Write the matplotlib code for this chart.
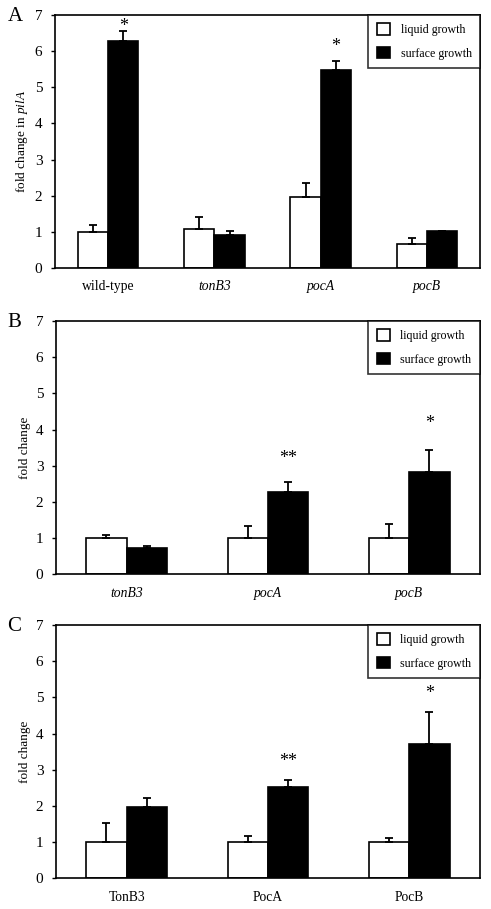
import matplotlib
matplotlib.use("Agg")
import matplotlib.pyplot as plt
import numpy as np

plt.rcParams['font.family'] = ['Liberation Serif', 'DejaVu Serif']
plt.rcParams['mathtext.fontset'] = 'custom'
plt.rcParams['mathtext.it'] = 'Liberation Serif:italic'
plt.rcParams['mathtext.rm'] = 'Liberation Serif'

series_names = ["liquid growth", "surface growth"]

# Panel A
a_cats = ["wild-type", "tonB3", "pocA", "pocB"]
a_italic = [False, True, True, True]
a_liquid = [1.00, 1.08, 1.97, 0.66]
a_liquid_err = [0.20, 0.33, 0.37, 0.17]
a_surface = [6.28, 0.92, 5.49, 1.03]
a_surface_err = [0.27, 0.10, 0.24, 0.0]
a_stars = ["*", "", "*", ""]
a_star_y = [6.74, None, 6.18, None]

# Panel B
b_cats = ["tonB3", "pocA", "pocB"]
b_italic = [True, True, True]
b_liquid = [1.00, 1.00, 1.00]
b_liquid_err = [0.08, 0.33, 0.38]
b_surface = [0.72, 2.28, 2.82]
b_surface_err = [0.07, 0.28, 0.62]
b_stars = ["", "**", "*"]
b_star_y = [None, 3.25, 4.22]

# Panel C
c_cats = ["TonB3", "PocA", "PocB"]
c_italic = [False, False, False]
c_liquid = [1.00, 1.00, 1.00]
c_liquid_err = [0.54, 0.17, 0.11]
c_surface = [1.98, 2.53, 3.70]
c_surface_err = [0.23, 0.18, 0.89]
c_stars = ["", "**", "*"]
c_star_y = [None, 3.27, 5.16]

fig = plt.figure(figsize=(4.91, 9.09), dpi=100)

panels = [
    ("A", [0.112, 0.7052, 0.866, 0.2783], a_cats, a_italic, a_liquid, a_liquid_err,
     a_surface, a_surface_err, a_stars, a_star_y, "fold change in $\\it{pilA}$"),
    ("B", [0.114, 0.3682, 0.8635, 0.2787], b_cats, b_italic, b_liquid, b_liquid_err,
     b_surface, b_surface_err, b_stars, b_star_y, "fold change"),
    ("C", [0.114, 0.0338, 0.8635, 0.2786], c_cats, c_italic, c_liquid, c_liquid_err,
     c_surface, c_surface_err, c_stars, c_star_y, "fold change"),
]

w = 0.285
for (lab, pos, cats, ital, liq, liq_e, sur, sur_e, stars, star_y, ylab) in panels:
    ax = fig.add_axes(pos)
    x = np.arange(len(cats))
    zeros = [0] * len(cats)
    ax.bar(x - w / 2, liq, w, color="white", edgecolor="black", linewidth=1.2,
           yerr=[zeros, liq_e], error_kw=dict(ecolor="black", elinewidth=1.3, capsize=3, capthick=1.3),
           label=series_names[0], zorder=2)
    ax.bar(x + w / 2, sur, w, color="black", edgecolor="black", linewidth=1.2,
           yerr=[zeros, sur_e], error_kw=dict(ecolor="black", elinewidth=1.3, capsize=3, capthick=1.3),
           label=series_names[1], zorder=2)
    for xi, s, sy in zip(x, stars, star_y):
        if s:
            ax.text(xi + w / 2, sy, s, ha="center", va="center_baseline", fontsize=13)
    ax.set_xlim(-0.5, len(cats) - 0.5)
    ax.set_ylim(0, 7)
    ax.set_yticks(range(0, 8))
    ax.tick_params(axis="y", direction="out", length=3, width=1, labelsize=11, pad=6)
    ax.tick_params(axis="x", length=0, labelsize=9.8, pad=9)
    ax.set_xticks(x)
    ax.set_xticklabels(cats)
    for t, it in zip(ax.get_xticklabels(), ital):
        if it:
            t.set_fontstyle("italic")
    for sp in ax.spines.values():
        sp.set_linewidth(1.2)
    ax.set_ylabel(ylab, fontsize=9.5)
    ax.yaxis.set_label_coords(-0.058, 0.5)
    leg = ax.legend(loc="upper right", borderaxespad=0, fontsize=8.6, frameon=True,
                    fancybox=False, edgecolor="black", handlelength=1.1, handleheight=1.1,
                    borderpad=0.7, labelspacing=0.9, handletextpad=0.9)
    leg.get_frame().set_linewidth(1.2)
    for p in leg.get_patches():
        p.set_linewidth(1.2)
    bb = ax.get_position()
    fig.text(0.015, bb.y1 - 0.002, lab, fontsize=15, ha="left", va="center")

fig.savefig("out.png", dpi=100)
